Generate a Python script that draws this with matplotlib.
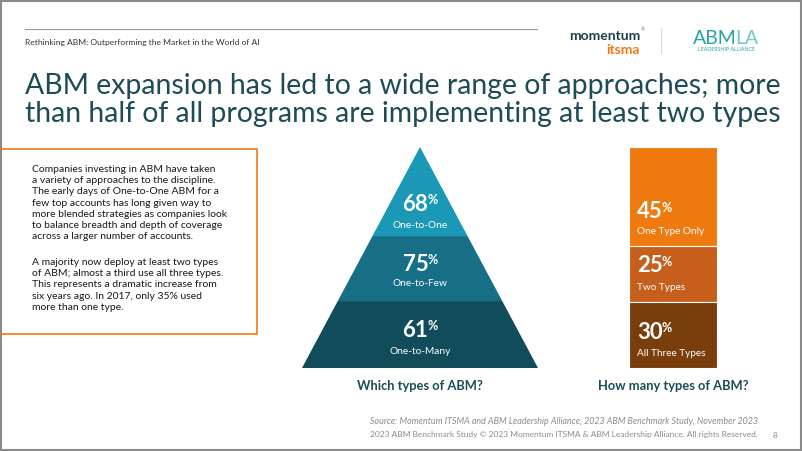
import matplotlib
matplotlib.use("Agg")
import matplotlib.pyplot as plt
from matplotlib.patches import Polygon, Rectangle
import numpy as np

plt.rcParams['font.family'] = ['Lato', 'DejaVu Sans']

# data
pyr_labels = ['One-to-One', 'One-to-Few', 'One-to-Many']
pyr_values = [68, 75, 61]
mix_labels = ['One Type Only', 'Two Types', 'All Three Types']
mix_values = [45, 25, 30]

title = ("ABM expansion has led to a wide range of approaches; more\n"
         "than half of all programs are implementing at least two types")
header = "Rethinking ABM: Outperforming the Market in the World of AI"
para1 = ("Companies investing in ABM have taken\n"
         "a variety of approaches to the discipline.\n"
         "The early days of One-to-One ABM for a\n"
         "few top accounts has long given way to\n"
         "more blended strategies as companies look\n"
         "to balance breadth and depth of coverage\n"
         "across a larger number of accounts.")
para2 = ("A majority now deploy at least two types\n"
         "of ABM; almost a third use all three types.\n"
         "This represents a dramatic increase from\n"
         "six years ago. In 2017, only 35% used\n"
         "more than one type.")
source = "Source: Momentum ITSMA and ABM Leadership Alliance, 2023 ABM Benchmark Study, November 2023"
copyright_txt = "2023 ABM Benchmark Study \u00a9 2023 Momentum ITSMA & ABM Leadership Alliance. All rights Reserved."

TEAL_DARK = '#1d4b56'
PYR_COLORS = ['#1a98b5', '#166f87', '#114c5b']
BAR_COLORS = ['#ee7a10', '#c65f1b', '#7a3d0c']

W, H = 802, 451
fig = plt.figure(figsize=(W / 100, H / 100), dpi=100)
fig.patch.set_facecolor('white')

# page canvas in pixel coords, kept on top of the chart axes
page = fig.add_axes([0, 0, 1, 1])
page.set_xlim(0, W)
page.set_ylim(H, 0)
page.axis('off')
page.set_zorder(5)

page.add_patch(Rectangle((0.5, 0.5), W - 1.5, H - 1.5, fill=False, ec='#8a8a8a', lw=1.5))

fig.canvas.draw()
renderer = fig.canvas.get_renderer()

# header
page.plot([25, 537], [29, 29], color='#9a9a9a', lw=0.8)
page.text(25, 43, header, fontsize=6.1, color='#333333', va='center')
page.text(640, 36, "momentum", fontsize=10, fontweight='bold', color='#1e3f48', ha='right', va='center')
page.text(641, 30, "\u00ae", fontsize=3.5, color='#777777', ha='left', va='center')
page.text(640, 50, "itsma", fontsize=10, fontweight='bold', color='#ee7a10', ha='right', va='center')
page.plot([661, 661], [28, 53], color='#dddddd', lw=0.8)
abm = page.text(693, 38, "ABM", fontsize=14, color='#2aa3a5', ha='left', va='center')
bb = abm.get_window_extent(renderer)
x_la = page.transData.inverted().transform((bb.x1, 0))[0] - 1.5
page.text(x_la, 38, "LA", fontsize=14, color='#72c7c8', ha='left', va='center')
page.text(727, 49.5, "LEADERSHIP ALLIANCE", fontsize=3.8, color='#2aa3a5', ha='center', va='center')

# title
page.text(25, 122, title, fontsize=20.4, color=TEAL_DARK, ha='left', va='baseline', linespacing=1.11)

# text box
page.plot([0, 257, 257, 0], [149, 149, 334, 334], color='#ee7a10', lw=1.2)
page.text(32, 165, para1, fontsize=7.5, color='#1a1a1a', va='top', linespacing=1.32)
page.text(32, 258, para2, fontsize=7.5, color='#1a1a1a', va='top', linespacing=1.32)

# pyramid
pyr = fig.add_axes([302 / W, (H - 368) / H, 236 / W, 221 / H])
pyr.set_xlim(-1, 1)
pyr.set_ylim(1, 0)
pyr.axis('off')
cuts = [0, 0.403, 0.697, 1.0]
for i in range(3):
    y0, y1 = cuts[i], cuts[i + 1]
    poly = Polygon([(-y0, y0), (y0, y0), (y1, y1), (-y1, y1)], closed=True,
                   fc=PYR_COLORS[i], ec='none')
    pyr.add_patch(poly)

# stacked bar
bar = fig.add_axes([629 / W, (H - 368) / H, 88 / W, 221 / H])
bar.set_xlim(0, 1)
bar.set_ylim(sum(mix_values), 0)
bar.axis('off')
bottoms = np.cumsum([0] + mix_values[:-1])
bar.bar([0.5] * 3, mix_values, bottom=bottoms, width=1.0, color=BAR_COLORS,
        edgecolor='white', linewidth=0.8)


def pct_label(ax, x, y, value, ha='center'):
    # big number with a small raised percent sign
    num = ax.text(x, y, str(value), fontsize=16, fontweight='bold', color='white',
                  ha='left', va='baseline')
    pct = ax.text(x, y, '%', fontsize=9, fontweight='bold', color='white',
                  ha='left', va='baseline')
    bb_n = num.get_window_extent(renderer)
    bb_p = pct.get_window_extent(renderer)
    gap = -1.0
    total = bb_n.width + gap + bb_p.width
    inv = ax.transData.inverted()
    x_disp = ax.transData.transform((x, y))
    start = x_disp[0] - total / 2 if ha == 'center' else x_disp[0]
    num.set_position(inv.transform((start, x_disp[1])))
    pct.set_position(inv.transform((start + bb_n.width + gap, x_disp[1] + 6.5)))


pyr_num_y = [211, 271, 337]
pyr_lab_y = [225, 284, 351]
for i in range(3):
    pct_label(page, 420, pyr_num_y[i], pyr_values[i])
    page.text(420, pyr_lab_y[i], pyr_labels[i], fontsize=7.3, color='white',
              ha='center', va='center')

mid_num_y = [218, 272, 339]
mid_lab_y = [231, 287, 353]
for i in range(3):
    pct_label(page, 637, mid_num_y[i], mix_values[i], ha='left')
    page.text(637, mid_lab_y[i], mix_labels[i], fontsize=7.2, color='white',
              ha='left', va='center')

page.text(420, 386, "Which types of ABM?", fontsize=9.3, fontweight='bold', color=TEAL_DARK,
          ha='center', va='center')
page.text(673, 386, "How many types of ABM?", fontsize=9.3, fontweight='bold', color=TEAL_DARK,
          ha='center', va='center')

# footer
page.text(758, 421, source, fontsize=6.4, style='italic', color='#8c8c8c', ha='right', va='center')
page.text(758, 435, copyright_txt, fontsize=6, color='#8c8c8c', ha='right', va='center')
page.text(775, 435, "8", fontsize=6, color='#8c8c8c', ha='center', va='center')

fig.savefig('out.png', dpi=100, facecolor='white')
